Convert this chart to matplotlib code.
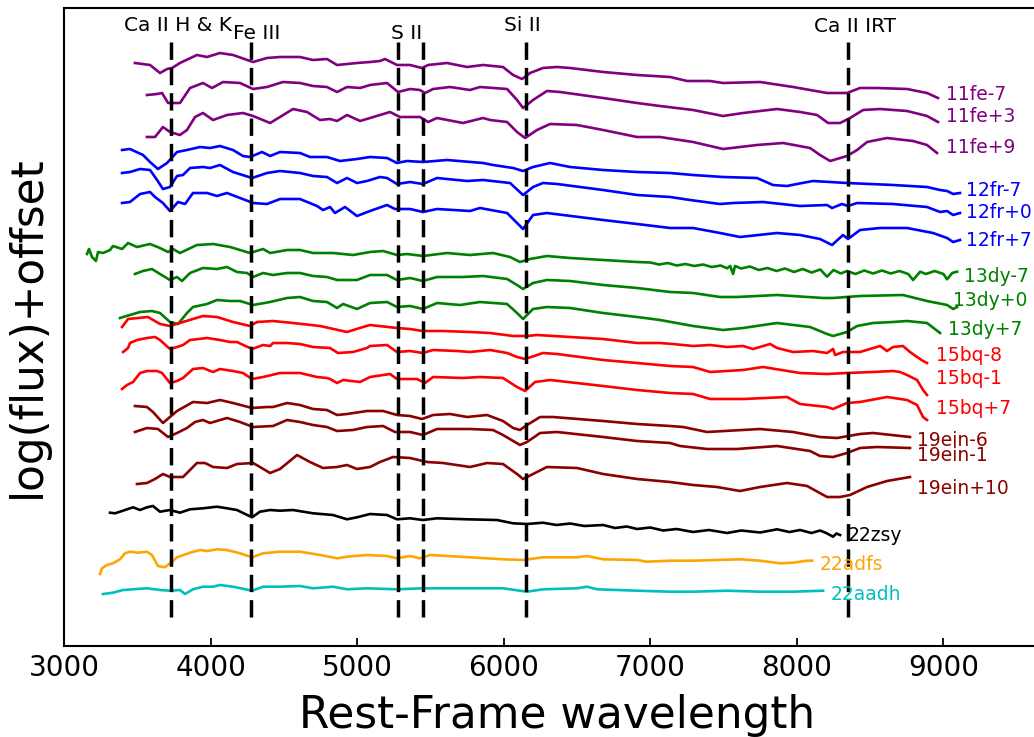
import matplotlib
matplotlib.use('Agg')
import matplotlib.pyplot as plt

# 光谱数据 (rest-frame wavelength, log(flux)+offset)
wl_11fe_m7 = [3484, 3587, 3655, 3703, 3737, 3791, 3907, 3976, 4064, 4153, 4290, 4385, 4474, 4610, 4699, 4794, 4863,
              4999, 5088, 5156, 5190, 5272, 5361, 5443, 5484, 5613, 5750, 5859, 5995, 6064, 6125, 6180, 6268, 6364,
              6453, 6678, 6910, 7135, 7251, 7408, 7496, 7749, 7974, 8206, 8342, 8431, 8547, 8752, 8888, 8963]
fx_11fe_m7 = [5.83, 5.81, 5.73, 5.77, 5.78, 5.83, 5.91, 5.89, 5.93, 5.91, 5.84, 5.88, 5.89, 5.89, 5.86, 5.87, 5.81,
              5.83, 5.84, 5.85, 5.87, 5.81, 5.81, 5.78, 5.81, 5.83, 5.79, 5.81, 5.79, 5.71, 5.67, 5.73, 5.78, 5.79,
              5.78, 5.74, 5.71, 5.69, 5.65, 5.65, 5.63, 5.64, 5.59, 5.53, 5.53, 5.58, 5.58, 5.57, 5.53, 5.48]

wl_11fe_p3 = [3566, 3635, 3669, 3710, 3791, 3860, 3948, 4010, 4085, 4201, 4290, 4385, 4494, 4610, 4699, 4794, 4863,
              4931, 5020, 5088, 5204, 5279, 5361, 5429, 5463, 5518, 5634, 5770, 5838, 6023, 6091, 6132, 6200, 6295,
              6384, 6678, 6910, 7066, 7292, 7496, 7633, 7865, 8022, 8138, 8213, 8295, 8363, 8452, 8568, 8752, 8888, 8963]
fx_11fe_p3 = [5.51, 5.52, 5.53, 5.43, 5.43, 5.58, 5.63, 5.58, 5.64, 5.63, 5.57, 5.59, 5.64, 5.63, 5.60, 5.59, 5.54,
              5.59, 5.58, 5.61, 5.63, 5.54, 5.57, 5.56, 5.53, 5.57, 5.59, 5.56, 5.59, 5.57, 5.46, 5.38, 5.46, 5.55,
              5.54, 5.48, 5.43, 5.40, 5.36, 5.30, 5.33, 5.37, 5.34, 5.31, 5.23, 5.23, 5.28, 5.36, 5.37, 5.35, 5.30, 5.24]

wl_11fe_p9 = [3566, 3621, 3675, 3723, 3791, 3839, 3894, 3948, 4017, 4112, 4221, 4290, 4406, 4474, 4562, 4658, 4747,
              4815, 4863, 4931, 5020, 5088, 5224, 5292, 5429, 5484, 5545, 5722, 5859, 5907, 6023, 6091, 6146, 6227,
              6316, 6500, 6678, 6910, 7066, 7292, 7496, 7728, 7906, 8090, 8158, 8227, 8342, 8411, 8479, 8615, 8793,
              8888, 8956]
fx_11fe_p9 = [5.09, 5.09, 5.19, 5.14, 5.11, 5.16, 5.29, 5.33, 5.26, 5.31, 5.33, 5.30, 5.23, 5.29, 5.37, 5.34, 5.26,
              5.27, 5.25, 5.31, 5.25, 5.28, 5.34, 5.29, 5.29, 5.24, 5.28, 5.23, 5.28, 5.26, 5.24, 5.14, 5.08, 5.16,
              5.22, 5.21, 5.16, 5.09, 5.09, 5.04, 4.97, 5.01, 5.03, 4.98, 4.91, 4.85, 4.90, 4.96, 5.04, 5.08, 5.05,
              5.01, 4.93]

wl_12fr_m7 = [3396, 3450, 3539, 3587, 3641, 3703, 3771, 3839, 3928, 3996, 4064, 4153, 4221, 4269, 4351, 4406, 4474,
              4610, 4678, 4794, 4883, 4999, 5088, 5204, 5272, 5340, 5449, 5613, 5859, 5927, 6064, 6132, 6200, 6316,
              6453, 6678, 6910, 7135, 7292, 7496, 7728, 7837, 7933, 8001, 8110, 8342, 8656, 8888, 8977, 9025, 9066, 9113]
fx_12fr_m7 = [4.96, 4.97, 4.91, 4.84, 4.77, 4.83, 4.94, 4.96, 4.99, 4.98, 5.00, 4.96, 4.90, 4.89, 4.94, 4.90, 4.94,
              4.93, 4.89, 4.89, 4.85, 4.87, 4.89, 4.88, 4.83, 4.85, 4.84, 4.86, 4.83, 4.81, 4.78, 4.75, 4.79, 4.83,
              4.79, 4.76, 4.74, 4.73, 4.71, 4.69, 4.68, 4.61, 4.60, 4.62, 4.65, 4.63, 4.61, 4.59, 4.56, 4.55, 4.52, 4.53]

wl_12fr_p0 = [3396, 3450, 3519, 3587, 3635, 3675, 3723, 3771, 3812, 3860, 3948, 3996, 4064, 4153, 4283, 4385, 4474,
              4610, 4699, 4794, 4863, 4931, 4999, 5067, 5156, 5204, 5272, 5361, 5449, 5545, 5750, 5859, 6043, 6132,
              6200, 6268, 6364, 6678, 6910, 7135, 7271, 7476, 7565, 7769, 8022, 8206, 8240, 8308, 8349, 8411, 8656,
              8888, 8977, 9025, 9066, 9113]
fx_12fr_p0 = [4.73, 4.74, 4.77, 4.76, 4.66, 4.57, 4.59, 4.70, 4.71, 4.78, 4.79, 4.78, 4.81, 4.74, 4.68, 4.73, 4.75,
              4.73, 4.70, 4.69, 4.63, 4.68, 4.63, 4.65, 4.69, 4.68, 4.62, 4.64, 4.62, 4.68, 4.65, 4.66, 4.63, 4.51,
              4.59, 4.63, 4.62, 4.56, 4.51, 4.49, 4.46, 4.42, 4.43, 4.44, 4.40, 4.41, 4.38, 4.42, 4.40, 4.43, 4.42,
              4.39, 4.34, 4.35, 4.31, 4.33]

wl_12fr_p7 = [3396, 3450, 3519, 3587, 3621, 3675, 3723, 3778, 3826, 3880, 3976, 4044, 4112, 4201, 4290, 4385, 4474,
              4610, 4726, 4767, 4815, 4849, 4917, 4999, 5088, 5204, 5258, 5361, 5449, 5545, 5770, 5838, 6023, 6091,
              6132, 6200, 6295, 6678, 6910, 7135, 7292, 7476, 7612, 7865, 8022, 8158, 8240, 8315, 8349, 8431, 8568,
              8752, 8929, 9025, 9066, 9113]
fx_12fr_p7 = [4.43, 4.44, 4.52, 4.54, 4.49, 4.43, 4.35, 4.44, 4.42, 4.53, 4.53, 4.50, 4.53, 4.48, 4.43, 4.42, 4.47,
              4.47, 4.40, 4.36, 4.39, 4.33, 4.39, 4.30, 4.35, 4.41, 4.37, 4.37, 4.34, 4.37, 4.35, 4.38, 4.33, 4.23,
              4.17, 4.31, 4.33, 4.26, 4.22, 4.18, 4.18, 4.13, 4.09, 4.13, 4.11, 4.07, 4.01, 4.11, 4.07, 4.16, 4.18,
              4.18, 4.13, 4.08, 4.04, 4.06]

wl_13dy_m7 = [3157, 3171, 3191, 3218, 3232, 3266, 3314, 3334, 3396, 3437, 3498, 3587, 3655, 3710, 3744, 3791, 3907,
              4017, 4133, 4269, 4358, 4406, 4522, 4610, 4699, 4835, 4972, 5088, 5177, 5272, 5340, 5449, 5613, 5770,
              5927, 6043, 6111, 6180, 6295, 6453, 6678, 6910,
              7000, 7060, 7120, 7180, 7240, 7300, 7360, 7420, 7480, 7524, 7545, 7565, 7578, 7620, 7680, 7740, 7800,
              7860, 7920, 7980, 8040, 8100, 8160, 8206, 8250, 8300, 8342, 8400, 8460, 8520, 8580, 8640, 8700, 8760,
              8793, 8841, 8880, 8940, 9000, 9025, 9060, 9093]
fx_13dy_m7 = [3.92, 3.97, 3.89, 3.85, 3.94, 3.93, 3.96, 4.00, 3.97, 4.03, 3.99, 4.02, 3.98, 3.94, 3.97, 3.93, 4.01,
              4.02, 3.99, 3.93, 3.97, 3.93, 3.96, 3.96, 3.93, 3.93, 3.91, 3.94, 3.95, 3.91, 3.92, 3.90, 3.93, 3.91,
              3.93, 3.89, 3.84, 3.87, 3.90, 3.88, 3.86, 3.84,
              3.835, 3.815, 3.83, 3.805, 3.82, 3.80, 3.815, 3.79, 3.805, 3.777, 3.80, 3.72, 3.80, 3.775, 3.795, 3.76,
              3.78, 3.75, 3.775, 3.74, 3.77, 3.735, 3.765, 3.693, 3.76, 3.725, 3.75, 3.72, 3.755, 3.725, 3.755,
              3.725, 3.75, 3.72, 3.66, 3.743, 3.72, 3.75, 3.72, 3.667, 3.73, 3.743]

wl_13dy_p0 = [3484, 3539, 3600, 3655, 3723, 3771, 3805, 3860, 3948, 4044, 4112, 4180, 4249, 4290, 4358, 4426, 4522,
              4610, 4699, 4794, 4863, 4999, 5088, 5204, 5272, 5361, 5449, 5545, 5722, 5859, 6023, 6091, 6132, 6200,
              6295, 6453, 6678, 6910, 7135, 7292, 7476, 7592, 7865, 8179, 8247, 8431, 8724, 8888, 9025, 9066, 9093]
fx_13dy_p0 = [3.72, 3.75, 3.77, 3.72, 3.66, 3.69, 3.65, 3.73, 3.78, 3.77, 3.79, 3.74, 3.73, 3.69, 3.73, 3.71, 3.73,
              3.73, 3.70, 3.69, 3.66, 3.66, 3.71, 3.71, 3.66, 3.68, 3.65, 3.69, 3.69, 3.70, 3.67, 3.61, 3.57, 3.63,
              3.66, 3.65, 3.61, 3.58, 3.54, 3.53, 3.49, 3.49, 3.51, 3.48, 3.48, 3.50, 3.51, 3.45, 3.41, 3.37, 3.39]

wl_13dy_p7 = [3382, 3450, 3519, 3600, 3655, 3723, 3778, 3839, 3880, 3976, 4044, 4133, 4201, 4290, 4406, 4522, 4610,
              4699, 4794, 4863, 4904, 4999, 5088, 5204, 5272, 5361, 5449, 5545, 5702, 5838, 6023, 6091, 6132, 6200,
              6295, 6453, 6678, 6910, 7066, 7292, 7496, 7633, 7865, 8090, 8206, 8247, 8342, 8411, 8520, 8656, 8752,
              8888, 8977]
fx_13dy_p7 = [3.28, 3.31, 3.34, 3.35, 3.33, 3.24, 3.22, 3.33, 3.39, 3.42, 3.46, 3.45, 3.45, 3.41, 3.44, 3.48, 3.49,
              3.45, 3.44, 3.38, 3.42, 3.37, 3.43, 3.44, 3.39, 3.40, 3.37, 3.43, 3.41, 3.44, 3.42, 3.33, 3.27, 3.37,
              3.39, 3.38, 3.33, 3.29, 3.26, 3.20, 3.16, 3.18, 3.23, 3.19, 3.12, 3.10, 3.14, 3.20, 3.23, 3.24, 3.25,
              3.23, 3.13]

wl_15bq_m8 = [3396, 3437, 3573, 3655, 3723, 3812, 3948, 4044, 4153, 4269, 4317, 4426, 4562, 4747, 4931, 5040, 5088,
              5272, 5361, 5449, 5586, 5770, 5907, 6064, 6159, 6227, 6453, 6678, 6910, 7066, 7155, 7292, 7408, 7524,
              7633, 7701, 7817, 7865, 7974, 8110, 8206, 8247, 8261, 8315, 8431, 8499, 8568, 8615, 8656, 8724, 8772,
              8820, 8861, 8888]
fx_15bq_m8 = [3.19, 3.27, 3.29, 3.22, 3.20, 3.24, 3.30, 3.29, 3.24, 3.20, 3.24, 3.25, 3.23, 3.20, 3.14, 3.19, 3.21,
              3.18, 3.17, 3.15, 3.15, 3.14, 3.13, 3.10, 3.10, 3.11, 3.09, 3.07, 3.03, 3.03, 3.02, 3.00, 3.01, 2.99,
              3.00, 2.97, 3.02, 2.98, 2.94, 2.95, 2.93, 2.97, 2.91, 2.94, 2.94, 2.97, 3.00, 2.95, 2.99, 3.00, 2.94,
              2.89, 2.85, 2.83]

wl_15bq_m1 = [3403, 3437, 3450, 3498, 3566, 3621, 3655, 3723, 3771, 3812, 3860, 3976, 4064, 4133, 4180, 4283, 4358,
              4406, 4426, 4522, 4610, 4699, 4815, 4869, 4972, 5067, 5088, 5204, 5272, 5361, 5449, 5518, 5681, 5770,
              5907, 6023, 6091, 6146, 6268, 6364, 6678, 6910, 7135, 7292, 7408, 7633, 7769, 8022, 8206, 8342, 8520,
              8656, 8704, 8752, 8820, 8861, 8888]
fx_15bq_m1 = [2.94, 2.98, 3.03, 3.06, 3.08, 3.09, 3.06, 2.97, 2.99, 3.01, 3.06, 3.08, 3.06, 3.04, 3.04, 2.97, 3.01,
              3.00, 3.03, 3.03, 3.02, 2.99, 2.98, 2.93, 2.94, 2.98, 3.00, 3.01, 2.94, 2.95, 2.93, 2.96, 2.95, 2.94,
              2.96, 2.93, 2.89, 2.87, 2.93, 2.92, 2.86, 2.83, 2.80, 2.79, 2.74, 2.76, 2.79, 2.73, 2.72, 2.73, 2.74,
              2.75, 2.74, 2.71, 2.66, 2.56, 2.51]

wl_15bq_p7 = [3396, 3430, 3471, 3519, 3566, 3635, 3669, 3723, 3771, 3812, 3880, 3948, 4017, 4064, 4153, 4221, 4283,
              4358, 4474, 4610, 4726, 4794, 4815, 4863, 4904, 5020, 5088, 5224, 5272, 5408, 5463, 5518, 5722, 5838,
              5995, 6091, 6146, 6214, 6316, 6678, 6910, 7135, 7292, 7408, 7633, 7933, 8022, 8206, 8247, 8342, 8431,
              8615, 8752, 8820, 8861, 8888]
fx_15bq_p7 = [2.57, 2.61, 2.64, 2.73, 2.75, 2.75, 2.73, 2.63, 2.65, 2.68, 2.77, 2.78, 2.74, 2.77, 2.75, 2.73, 2.67,
              2.69, 2.73, 2.73, 2.69, 2.68, 2.67, 2.63, 2.66, 2.64, 2.69, 2.72, 2.67, 2.67, 2.63, 2.69, 2.68, 2.69,
              2.68, 2.59, 2.55, 2.64, 2.66, 2.60, 2.56, 2.53, 2.52, 2.47, 2.47, 2.49, 2.42, 2.39, 2.37, 2.43, 2.44,
              2.49, 2.46, 2.41, 2.29, 2.26]

wl_19ein_m6 = [3484, 3566, 3607, 3675, 3723, 3771, 3880, 3976, 4064, 4153, 4283, 4385, 4426, 4522, 4610, 4699, 4794,
               4863, 4931, 5067, 5177, 5272, 5361, 5443, 5518, 5634, 5750, 5886, 5995, 6064, 6111, 6159, 6248, 6336,
               6678, 6910, 7135, 7224, 7387, 7749, 7974, 8158, 8274, 8431, 8520, 8772]
fx_19ein_m6 = [2.40, 2.39, 2.34, 2.23, 2.29, 2.35, 2.44, 2.43, 2.46, 2.43, 2.38, 2.39, 2.39, 2.43, 2.41, 2.37, 2.36,
               2.31, 2.32, 2.35, 2.35, 2.31, 2.30, 2.27, 2.31, 2.32, 2.29, 2.31, 2.25, 2.18, 2.16, 2.21, 2.29, 2.29,
               2.25, 2.22, 2.20, 2.19, 2.14, 2.17, 2.14, 2.09, 2.08, 2.12, 2.13, 2.09]

wl_19ein_m1 = [3484, 3566, 3641, 3710, 3771, 3839, 3894, 3948, 3996, 4112, 4201, 4290, 4426, 4522, 4610, 4699, 4794,
               4863, 4972, 5067, 5177, 5258, 5361, 5449, 5545, 5770, 5927, 5995, 6111, 6159, 6248, 6364, 6678, 6910,
               7135, 7203, 7387, 7592, 7865, 8090, 8158, 8247, 8342, 8431, 8547, 8772]
fx_19ein_m1 = [2.14, 2.18, 2.17, 2.09, 2.13, 2.18, 2.24, 2.26, 2.23, 2.28, 2.24, 2.19, 2.20, 2.26, 2.24, 2.21, 2.19,
               2.15, 2.16, 2.19, 2.20, 2.14, 2.14, 2.11, 2.17, 2.17, 2.16, 2.11, 2.01, 2.04, 2.13, 2.14, 2.09, 2.05,
               2.03, 2.00, 1.97, 1.97, 2.00, 1.95, 1.90, 1.89, 1.93, 1.98, 1.99, 1.98]

wl_19ein_p10 = [3498, 3566, 3621, 3675, 3723, 3812, 3907, 3962, 4017, 4112, 4180, 4290, 4337, 4406, 4474, 4590, 4678,
                4767, 4863, 4931, 4999, 5088, 5156, 5245, 5361, 5477, 5586, 5770, 5886, 5995, 6091, 6132, 6200, 6295,
                6500, 6678, 6910, 7135, 7292, 7455, 7612, 7749, 7933, 8070, 8206, 8295, 8363, 8479, 8615, 8772]
fx_19ein_p10 = [1.62, 1.63, 1.67, 1.72, 1.69, 1.69, 1.83, 1.83, 1.79, 1.78, 1.82, 1.83, 1.79, 1.73, 1.77, 1.91, 1.84,
                1.78, 1.79, 1.81, 1.77, 1.79, 1.84, 1.89, 1.88, 1.84, 1.83, 1.79, 1.83, 1.82, 1.72, 1.67, 1.72, 1.79,
                1.78, 1.72, 1.67, 1.64, 1.61, 1.59, 1.55, 1.59, 1.63, 1.60, 1.49, 1.49, 1.51, 1.59, 1.65, 1.69]

wl_22zsy = [3314, 3348, 3382, 3430, 3471, 3519, 3566, 3607, 3655, 3723, 3791, 3860, 3948, 4044, 4112, 4180, 4283,
            4337, 4406, 4474, 4562, 4699, 4835, 4931, 4999, 5088, 5204, 5272, 5361, 5449, 5545, 5750, 5954, 6064,
            6159, 6268, 6360, 6453, 6550, 6678, 6760, 6840, 6910, 7000, 7087, 7180, 7292, 7400, 7524, 7620, 7749,
            7865, 7950, 8022, 8100, 8158, 8200, 8247, 8270, 8295]
fx_22zsy = [1.333, 1.327, 1.343, 1.367, 1.387, 1.36, 1.387, 1.40, 1.343, 1.36, 1.333, 1.367, 1.377, 1.393, 1.377,
            1.36, 1.287, 1.343, 1.36, 1.353, 1.36, 1.327, 1.31, 1.267, 1.287, 1.32, 1.31, 1.267, 1.277, 1.26, 1.277,
            1.267, 1.26, 1.227, 1.22, 1.233, 1.21, 1.225, 1.20, 1.21, 1.18, 1.195, 1.17, 1.185, 1.155, 1.17, 1.14,
            1.16, 1.13, 1.155, 1.135, 1.167, 1.14, 1.16, 1.13, 1.155, 1.13, 1.093, 1.125, 1.11]

wl_22adfs = [3246, 3259, 3293, 3334, 3382, 3416, 3450, 3505, 3566, 3600, 3641, 3689, 3723, 3771, 3860, 3928, 3976,
             4044, 4112, 4201, 4283, 4358, 4474, 4610, 4747, 4863, 4931, 5067, 5204, 5272, 5361, 5429, 5497, 5770,
             5995, 6132, 6268, 6500, 6568, 6678, 6910, 6978, 7135, 7292, 7612, 7749, 7885, 7974, 8070, 8104]
fx_22adfs = [0.72, 0.777, 0.81, 0.827, 0.867, 0.927, 0.943, 0.933, 0.943, 0.91, 0.80, 0.787, 0.827, 0.887, 0.933,
             0.96, 0.95, 0.967, 0.96, 0.927, 0.887, 0.927, 0.943, 0.943, 0.91, 0.877, 0.893, 0.91, 0.90, 0.877, 0.90,
             0.877, 0.91, 0.887, 0.867, 0.86, 0.887, 0.887, 0.90, 0.867, 0.86, 0.843, 0.853, 0.853, 0.867, 0.853,
             0.827, 0.833, 0.853, 0.853]

wl_22aadh = [3266, 3334, 3403, 3471, 3566, 3655, 3723, 3791, 3826, 3880, 3948, 4017, 4064, 4153, 4283, 4358, 4474,
             4610, 4699, 4835, 4931, 5067, 5272, 5449, 5770, 5995, 6159, 6268, 6500, 6568, 6637, 6910, 7135, 7292,
             7524, 7749, 7974, 8179]
fx_22aadh = [0.52, 0.533, 0.56, 0.567, 0.577, 0.56, 0.553, 0.56, 0.52, 0.567, 0.593, 0.593, 0.61, 0.593, 0.553,
             0.593, 0.593, 0.60, 0.577, 0.593, 0.567, 0.577, 0.567, 0.577, 0.577, 0.577, 0.543, 0.567, 0.577, 0.593,
             0.567, 0.553, 0.543, 0.543, 0.553, 0.543, 0.543, 0.553]

names = ['11fe-7', '11fe+3', '11fe+9', '12fr-7', '12fr+0', '12fr+7', '13dy-7', '13dy+0', '13dy+7',
         '15bq-8', '15bq-1', '15bq+7', '19ein-6', '19ein-1', '19ein+10', '22zsy', '22adfs', '22aadh']
colors = ['purple', 'purple', 'purple', 'blue', 'blue', 'blue', 'green', 'green', 'green',
          'red', 'red', 'red', 'darkred', 'darkred', 'darkred', 'black', 'orange', 'c']
wls = [wl_11fe_m7, wl_11fe_p3, wl_11fe_p9, wl_12fr_m7, wl_12fr_p0, wl_12fr_p7, wl_13dy_m7, wl_13dy_p0, wl_13dy_p7,
       wl_15bq_m8, wl_15bq_m1, wl_15bq_p7, wl_19ein_m6, wl_19ein_m1, wl_19ein_p10, wl_22zsy, wl_22adfs, wl_22aadh]
fxs = [fx_11fe_m7, fx_11fe_p3, fx_11fe_p9, fx_12fr_m7, fx_12fr_p0, fx_12fr_p7, fx_13dy_m7, fx_13dy_p0, fx_13dy_p7,
       fx_15bq_m8, fx_15bq_m1, fx_15bq_p7, fx_19ein_m6, fx_19ein_m1, fx_19ein_p10, fx_22zsy, fx_22adfs, fx_22aadh]
# 标签位置 (左端波长, 纵坐标)
label_x = [9018, 9018, 9018, 9154, 9154, 9154, 9141, 9066, 9032, 8950, 8950, 8950, 8820, 8820, 8820, 8349, 8155, 8233]
label_y = [5.52, 5.295, 4.98, 4.56, 4.33, 4.06, 3.69, 3.455, 3.165, 2.90, 2.67, 2.38, 2.06, 1.905, 1.575, 1.105, 0.81, 0.51]

# 谱线位置
line_wl = [3730, 4275, 5280, 5450, 6150, 8350]
line_names = ['Ca II H & K', 'Fe III', 'S II', 'Si II', 'Ca II IRT']
line_name_x = [3778, 4317, 5340, 6125, 8397]
line_name_y = [6.20, 6.12, 6.12, 6.20, 6.19]

fig = plt.figure(figsize=(10.34, 7.37), dpi=100)
ax = fig.add_axes([64 / 1034, 91 / 737, 1026 / 1034, 638 / 737])

for wl, fx, c in zip(wls, fxs, colors):
    ax.plot(wl, fx, color=c, lw=1.9, solid_joinstyle='round')

for x, y, name, c in zip(label_x, label_y, names, colors):
    ax.text(x, y, name, color=c, fontsize=13.5, ha='left', va='center')

for w in line_wl:
    ax.plot([w, w], [0.29, 6.05], color='black', lw=2.5, linestyle='--', dashes=(5, 2.3))

for x, y, name in zip(line_name_x, line_name_y, line_names):
    ax.text(x, y, name, fontsize=14.5, ha='center', va='center')

ax.set_xlim(3000, 10000)
ax.set_ylim(0, 6.38)
ax.set_yticks([])
ax.set_xticks([3000, 4000, 5000, 6000, 7000, 8000, 9000])
ax.tick_params(axis='x', direction='in', length=6, width=1.3, labelsize=20, pad=6)
for s in ax.spines.values():
    s.set_linewidth(1.5)

ax.set_xlabel('Rest-Frame wavelength', fontsize=31.5)
ax.xaxis.set_label_coords(0.4805, -0.075)
ax.set_ylabel('log(flux)+offset', fontsize=31.5, labelpad=11)

plt.savefig('out.png', dpi=100)
